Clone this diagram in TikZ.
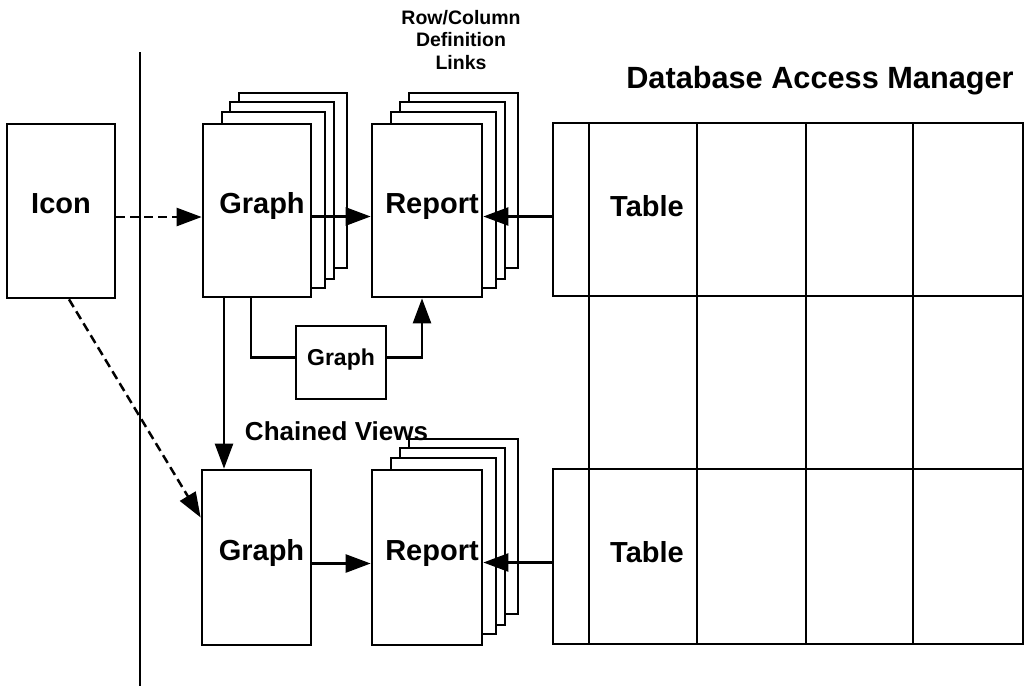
\documentclass[tikz,border=0pt]{standalone}
\usepackage{fontspec}
\setmainfont{Liberation Sans}
\usetikzlibrary{arrows.meta,calc}
\tikzset{
  box/.style={draw, line width=2.7pt, fill=white, rectangle, inner sep=0pt,
    font=\bfseries\fontsize{29}{34}\selectfont, text height=0.716em, text depth=0.21em},
  sbox/.style={box, font=\bfseries\fontsize{23}{27}\selectfont},
  page/.style={draw, line width=2.6pt, fill=white},
  cell/.style={draw, line width=2.8pt, rectangle, inner sep=0pt},
  grid/.style={line width=2.8pt},
  conn/.style={line width=2.5pt},
  arr/.style={conn, -{Triangle[length=25pt,width=18pt]}},
  darr/.style={arr, dash pattern=on 9pt off 5pt},
  lbl/.style={font=\bfseries\fontsize{29}{34}\selectfont, inner sep=0pt},
  note/.style={font=\bfseries\fontsize{19.5}{22.5}\selectfont, align=center, inner sep=0pt},
  cv/.style={font=\bfseries\fontsize{26}{30}\selectfont, inner sep=0pt},
  ttl/.style={font=\bfseries\fontsize{30.7}{36}\selectfont, inner sep=0pt},
}
\begin{document}
\begin{tikzpicture}[x=1pt,y=-1pt]
\useasboundingbox (0,0) rectangle (1031,686);

% separator
\coordinate (sepT) at (140,52);
\coordinate (sepB) at (140,686);
\draw[conn] (sepT) -- (sepB);

% titles
\node[ttl] (title) at (820,81) {Database Access Manager};
\node[note] (rcl) at (461,40) {Row/Column\\Definition\\Links};

% Icon
\node[box, minimum width=108pt, minimum height=174pt] (icon) at (61,211) {Icon};

% top graph stack
\draw[page] (239,93) rectangle (347,268);
\draw[page] (230,102) rectangle (334,279);
\draw[page] (222,112) rectangle (325,288);
\node[box, minimum width=108pt, minimum height=173pt] (g1) at (257,210.5) {\kern10pt Graph};

% top report stack
\draw[page] (409,93) rectangle (518,268);
\draw[page] (400,102) rectangle (505,279);
\draw[page] (391,112) rectangle (496,288);
\node[box, minimum width=110pt, minimum height=173pt] (rp1) at (427,210.5) {\kern10pt Report};

% small graph
\node[sbox, minimum width=90pt, minimum height=73pt] (sg) at (341,362.5) {Graph};

% bottom graph
\node[box, minimum width=109pt, minimum height=175pt] (g2) at (256.5,557.5) {\kern10pt Graph};

% bottom report stack
\draw[page] (409,439) rectangle (518,614);
\draw[page] (400,448) rectangle (505,625);
\draw[page] (391,458) rectangle (496,634);
\node[box, minimum width=110pt, minimum height=175pt] (rp2) at (427,557.5) {\kern10pt Report};

\node[cv] (chv) at (336.5,431) {Chained Views};

% table grid
\draw[grid] (589,123) rectangle (1023,644);
\foreach \xx in {697,806,913} \draw[grid] (\xx,123) -- (\xx,644);
\foreach \yy in {296,469} \draw[grid] (589,\yy) -- (1023,\yy);
\node[cell, minimum width=36pt, minimum height=173pt] (tA1) at (571,209.5) {};
\node[cell, minimum width=36pt, minimum height=175pt] (tA3) at (571,556.5) {};
\node[lbl] (tb1) at (647,206) {Table};
\node[lbl] (tb3) at (647,552) {Table};

% connectors
\coordinate (i1) at ([yshift=-6pt]icon.east);
\draw[darr] (i1) -- (i1 -| g1.west);
\coordinate (g1o) at ([yshift=-6pt]g1.east);
\draw[arr] (g1o) -- (g1o -| rp1.west);
\coordinate (a1) at ([yshift=-7pt]tA1.west);
\draw[arr] (a1) -- (a1 -| rp1.east);

\coordinate (d1) at ([xshift=-33pt]g1.south);
\draw[arr] (d1) -- (d1 |- g2.north);
\coordinate (d2) at ([xshift=-6pt]g1.south);
\draw[conn] (d2) |- ([yshift=5pt]sg.west);
\draw[arr] ([yshift=5pt]sg.east) -| ([xshift=-5pt]rp1.south);

\draw[darr] ([xshift=8pt]icon.south) -- ([yshift=40pt]g2.west);

\coordinate (g2o) at ([yshift=-6pt]g2.east);
\draw[arr] (g2o) -- (g2o -| rp2.west);
\coordinate (a3) at ([yshift=-6pt]tA3.west);
\draw[arr] (a3) -- (a3 -| rp2.east);
\end{tikzpicture}
\end{document}
